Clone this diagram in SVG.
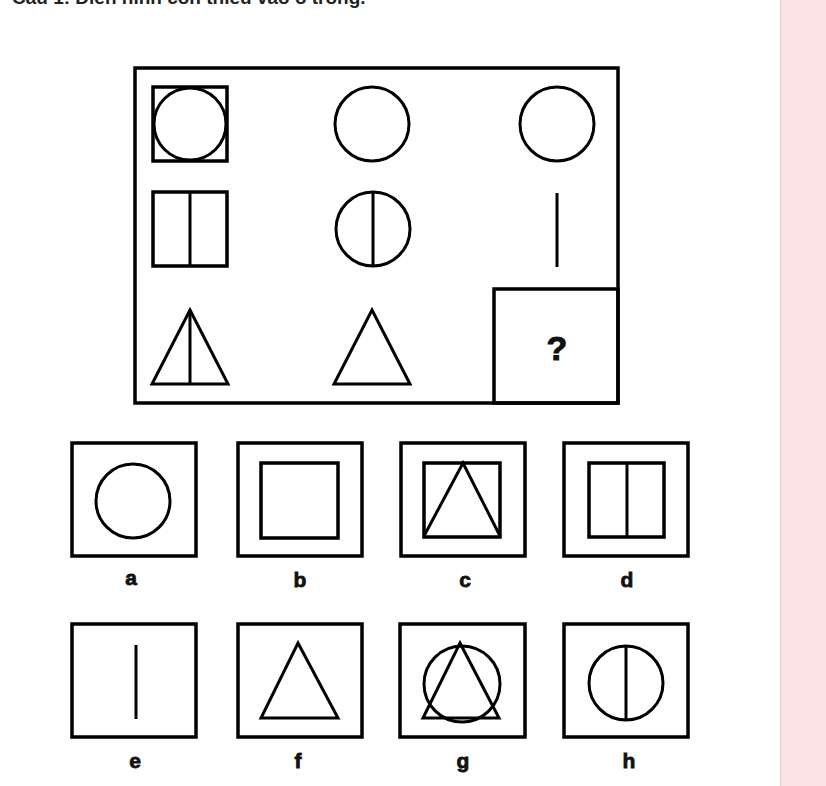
<svg xmlns="http://www.w3.org/2000/svg" width="826" height="786" viewBox="0 0 826 786">
<style>
.b{fill:none;stroke:#000;stroke-width:3.5}
.s{fill:none;stroke:#000;stroke-width:3;stroke-linejoin:miter}
.l{font-family:"Liberation Sans",Arial,sans-serif;font-weight:bold;font-size:21px;fill:#111;stroke:#111;stroke-width:0.8;text-anchor:middle}
</style>
<rect width="826" height="786" fill="#fff"/>
<rect x="780" y="0" width="46" height="786" fill="#fde4e4"/>
<line x1="780.5" y1="0" x2="780.5" y2="786" stroke="#d8d0d0" stroke-width="1"/>
<text x="12" y="4" font-family="'Liberation Sans',Arial,sans-serif" font-weight="bold" font-size="19" fill="#222">Câu 1: Điền hình còn thiếu vào ô trống.</text>
<g id="puzzle">
<rect class="b" x="135" y="68" width="483" height="335"/>
<rect class="b" x="494" y="289" width="124" height="114"/>
<text x="557" y="360" font-family="'Liberation Sans',Arial,sans-serif" font-weight="bold" font-size="34" text-anchor="middle" fill="#111" stroke="#111" stroke-width="1">?</text>
<rect class="b" x="153" y="87" width="74" height="74"/>
<circle class="s" cx="190" cy="124" r="36"/>
<circle class="s" cx="372" cy="124" r="37"/>
<circle class="s" cx="557" cy="124" r="37"/>
<rect class="b" x="153" y="192" width="74" height="74"/>
<line class="s" x1="190" y1="192" x2="190" y2="266"/>
<circle class="s" cx="373" cy="229" r="37"/>
<line class="s" x1="373" y1="192" x2="373" y2="266"/>
<line class="s" x1="557" y1="193" x2="557" y2="267"/>
<polygon class="s" points="190,310 228,384 152,384"/>
<line class="s" x1="190" y1="310" x2="190" y2="384"/>
<polygon class="s" points="372,310 410,384 334,384"/>
</g>
<g id="opt-a">
<rect class="b" x="72" y="443" width="124" height="113"/>
<circle class="s" cx="133" cy="501" r="37"/>
<text class="l" x="131" y="585">a</text>
</g>
<g id="opt-b">
<rect class="b" x="238" y="443" width="124" height="113"/>
<rect class="b" x="261" y="463" width="77" height="75"/>
<text class="l" x="300" y="587">b</text>
</g>
<g id="opt-c">
<rect class="b" x="401" y="443" width="124" height="113"/>
<rect class="b" x="424" y="463" width="76" height="74"/>
<polyline class="s" points="424,536 463,463 500,536"/>
<text class="l" x="465" y="587">c</text>
</g>
<g id="opt-d">
<rect class="b" x="564" y="443" width="124" height="113"/>
<rect class="b" x="589" y="463" width="75" height="74"/>
<line class="s" x1="627" y1="463" x2="627" y2="537"/>
<text class="l" x="627" y="587">d</text>
</g>
<g id="opt-e">
<rect class="b" x="72" y="624" width="124" height="113"/>
<line class="s" x1="136" y1="645" x2="136" y2="719"/>
<text class="l" x="135" y="768">e</text>
</g>
<g id="opt-f">
<rect class="b" x="238" y="624" width="124" height="113"/>
<polygon class="s" points="298,643 338,718 261,718"/>
<text class="l" x="298" y="768">f</text>
</g>
<g id="opt-g">
<rect class="b" x="400" y="624" width="125" height="113"/>
<circle class="s" cx="462" cy="684" r="38"/>
<polygon class="s" points="460,643 499,718 423,718"/>
<text class="l" x="463" y="768">g</text>
</g>
<g id="opt-h">
<rect class="b" x="564" y="624" width="124" height="113"/>
<circle class="s" cx="626" cy="683" r="37"/>
<line class="s" x1="626" y1="646" x2="626" y2="720"/>
<text class="l" x="629" y="768">h</text>
</g>
</svg>
